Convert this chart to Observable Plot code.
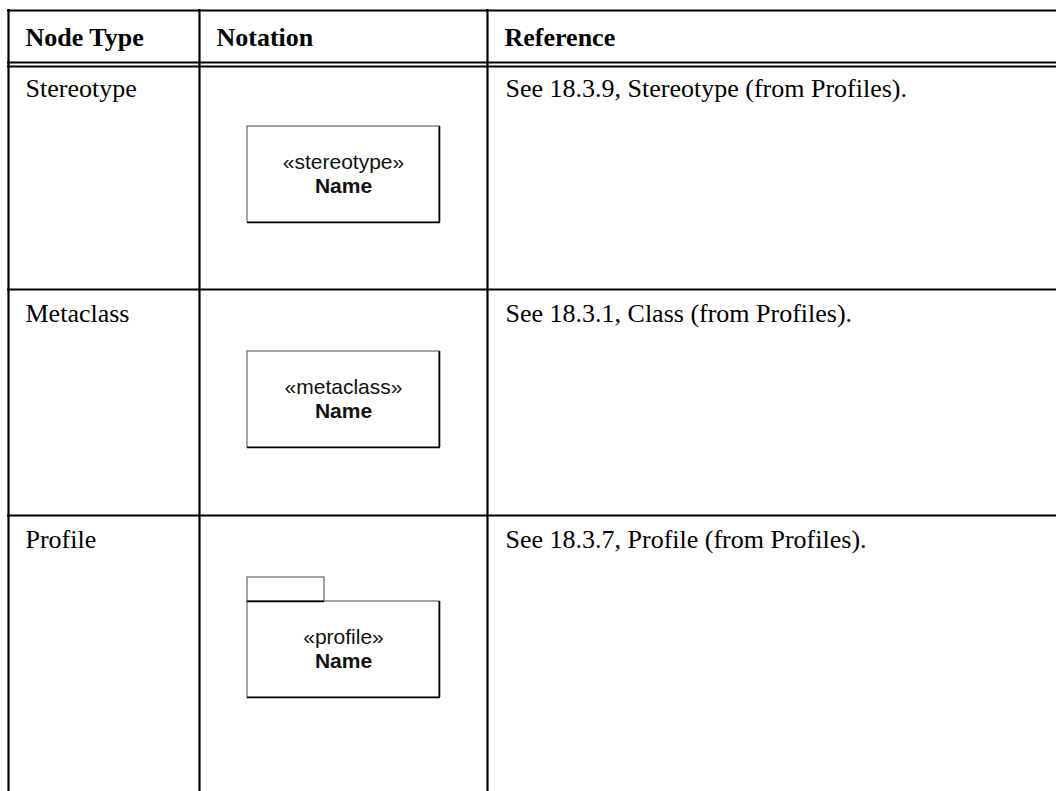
<!DOCTYPE html>
<html>
<head>
<meta charset="utf-8">
<script src="https://cdn.jsdelivr.net/npm/d3@7"></script>
<script src="https://cdn.jsdelivr.net/npm/@observablehq/plot@0.6"></script>
<style>
  html, body { margin: 0; padding: 0; background: #fff; }
  #chart svg { display: block; }
</style>
</head>
<body>
<div id="chart"></div>
<script>
// ---- content ----
const headers = ["Node Type", "Notation", "Reference"];
const nodeTypes = ["Stereotype", "Metaclass", "Profile"];
const keywords = ["«stereotype»", "«metaclass»", "«profile»"];
const elementNames = ["Name", "Name", "Name"];
const shapes = ["class", "class", "package"];
const references = [
  "See 18.3.9, Stereotype (from Profiles).",
  "See 18.3.1, Class (from Profiles).",
  "See 18.3.7, Profile (from Profiles)."
];

// ---- layout (pixel coordinates of the table grid) ----
const W = 1056, H = 791;
const colLeft = [8, 199, 487];
const tableTop = 10;
const headerRule = [62, 66];
const rowTop = [64, 289, 515];
const pad = 17;
const headerBaseline = 45;
const rowBaselineOffset = 32;
const boxX = [247, 439];
const boxOffset = 62;
const boxH = 96;
const tabW = 77, tabH = 24;

const rows = nodeTypes.map((t, i) => {
  const pkg = shapes[i] === "package";
  const top = rowTop[i] + boxOffset + (pkg ? tabH : 0);
  return {
    type: t, keyword: keywords[i], name: elementNames[i], ref: references[i], pkg,
    baseline: rowTop[i] + rowBaselineOffset,
    boxTop: top, boxBottom: top + boxH
  };
});

const hLines = [tableTop, ...headerRule, rowTop[1], rowTop[2]].map(y => ({y}));
const vLines = colLeft.map(x => ({x}));
const headerCells = headers.map((h, i) => ({text: h, x: colLeft[i] + pad}));
const boxCx = (boxX[0] + boxX[1]) / 2;
const pkgRows = rows.filter(r => r.pkg);

const serif = "'Liberation Serif', 'Times New Roman', Times, serif";
const sans = "'Liberation Sans', Arial, Helvetica, sans-serif";

const chart = Plot.plot({
  width: W,
  height: H,
  margin: 0,
  x: {domain: [0, W], range: [0, W], axis: null},
  y: {domain: [0, H], range: [0, H], axis: null},
  style: {background: "#fff", overflow: "visible"},
  marks: [
    // table grid
    Plot.ruleY(hLines, {y: "y", x1: colLeft[0] - 1, x2: W, stroke: "#000", strokeWidth: 2.2}),
    Plot.ruleX(vLines, {x: "x", y1: tableTop - 1, y2: H, stroke: "#000", strokeWidth: 2.2}),
    // header text
    Plot.text(headerCells, {x: "x", y: () => headerBaseline, text: "text", textAnchor: "start", lineAnchor: "bottom",
      fontSize: 26, fontWeight: "bold", fontFamily: serif, fill: "#000"}),
    // column 1 and 3 text
    Plot.text(rows, {x: () => colLeft[0] + pad, y: "baseline", text: "type", textAnchor: "start", lineAnchor: "bottom",
      fontSize: 26, fontFamily: serif, fill: "#000"}),
    Plot.text(rows, {x: () => colLeft[2] + pad + 1, y: "baseline", text: "ref", textAnchor: "start", lineAnchor: "bottom",
      fontSize: 26, fontFamily: serif, fill: "#000"}),
    // package tab
    Plot.rect(pkgRows, {x1: () => boxX[0], x2: () => boxX[0] + tabW, y1: d => d.boxTop - tabH, y2: "boxTop",
      fill: "#fff", stroke: "#666", strokeWidth: 1.2}),
    // notation boxes
    Plot.rect(rows, {x1: () => boxX[0], x2: () => boxX[1], y1: "boxTop", y2: "boxBottom",
      fill: "#fff", stroke: "#666", strokeWidth: 1.2}),
    // darker right / bottom edges
    Plot.ruleX(rows, {x: () => boxX[1], y1: "boxTop", y2: "boxBottom", stroke: "#000", strokeWidth: 1.6}),
    Plot.ruleY(rows, {y: "boxBottom", x1: () => boxX[0], x2: () => boxX[1] + 0.8, stroke: "#000", strokeWidth: 1.6}),
    Plot.ruleY(pkgRows, {y: "boxTop", x1: () => boxX[0], x2: () => boxX[0] + tabW, stroke: "#000", strokeWidth: 1.6}),
    // box labels
    Plot.text(rows, {x: () => boxCx, y: d => d.boxTop + 42, text: "keyword", textAnchor: "middle", lineAnchor: "bottom",
      fontSize: 21, fontFamily: sans, fill: "#111"}),
    Plot.text(rows, {x: () => boxCx, y: d => d.boxTop + 66, text: "name", textAnchor: "middle", lineAnchor: "bottom",
      fontSize: 21, fontWeight: "bold", fontFamily: sans, fill: "#111"})
  ]
});

document.getElementById("chart").append(chart);
</script>
</body>
</html>
